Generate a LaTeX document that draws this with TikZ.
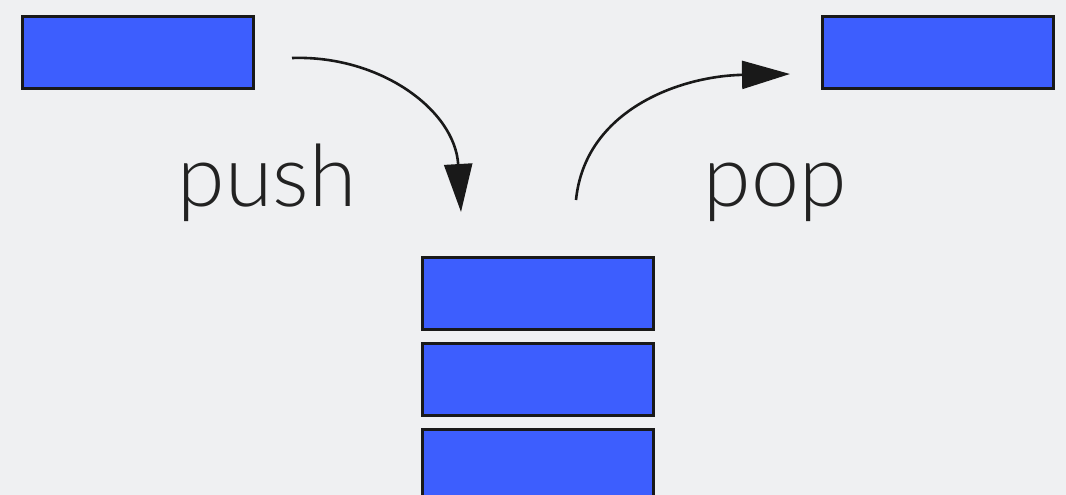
\documentclass[tikz,border=0pt]{standalone}
\usepackage{fontspec}
\setmainfont{Lato}[UprightFont={* Light}]
\usetikzlibrary{arrows.meta}
\definecolor{bg}{HTML}{EFF0F2}
\definecolor{boxblue}{HTML}{3D5EFE}
\definecolor{txt}{HTML}{222222}
\tikzset{
  item/.style={draw=black!90, line width=3pt, fill=boxblue, minimum width=231pt, minimum height=72pt, inner sep=0pt, anchor=north west},
  lbl/.style={text=txt, font=\fontsize{86}{86}\selectfont, anchor=base, inner sep=0pt},
  flow/.style={line width=2.6pt, draw=black!90, -{Triangle[length=48pt,width=28pt]}}
}
\begin{document}
\begin{tikzpicture}[x=1pt,y=-1pt]
\useasboundingbox (0,0) rectangle (1066,495);
\fill[bg] (0,0) rectangle (1066,495);
\clip (0,0) rectangle (1066,495);
\node[item] (src) at (20.5,15.5) {};
\node[item] (dst) at (820.5,15.5) {};
\node[item] (s1) at (420.5,255.5) {};
\node[item] (s2) at (420.5,341.5) {};
\node[item] (s3) at (420.5,427.5) {};
\node[lbl] (push) at (267,206) {push};
\node[lbl] (pop) at (775,206) {pop};
\coordinate (pushA) at (292,58);
\coordinate (pushB) at (461,212);
\coordinate (popA) at (576,200);
\coordinate (popB) at (790,74);
\draw[flow] (pushA) .. controls (380,55) and (455,110) .. (pushB);
\draw[flow] (popA) .. controls (585,110) and (680,76) .. (popB);
\end{tikzpicture}
\end{document}
